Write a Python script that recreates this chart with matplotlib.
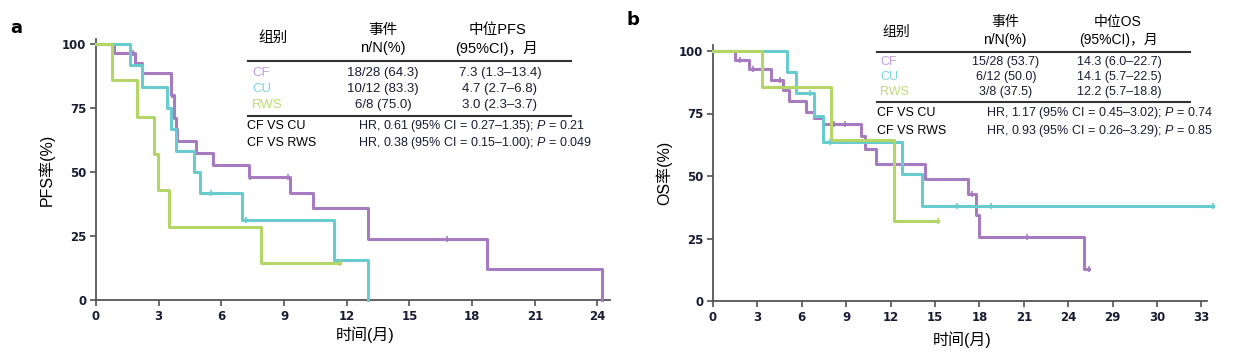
import numpy as np
import matplotlib
matplotlib.use("Agg")
import matplotlib.pyplot as plt

plt.rcParams['font.family'] = ['Liberation Sans', 'Noto Sans CJK SC', 'DejaVu Sans']
plt.rcParams['mathtext.fontset'] = 'custom'
plt.rcParams['mathtext.it'] = 'Liberation Sans:italic'
plt.rcParams['mathtext.rm'] = 'Liberation Sans'

# ---------------- data ----------------
groups = ["CF", "CU", "RWS"]

# Panel a: PFS
pfs_cf_t = [0, 0.85, 1.87, 2.2, 3.6, 3.72, 3.81, 3.9, 4.78, 5.6, 7.3, 9.3, 10.4, 13.0, 18.7, 24.2]
pfs_cf_s = [100, 96.4, 92.6, 88.4, 80.0, 71.0, 66.6, 62.2, 57.3, 52.5, 47.8, 41.8, 35.8, 23.9, 12.0, 0]
pfs_cf_end = 24.2
pfs_cf_cens = [1.75, 3.65, 7.35, 9.2, 16.8]

pfs_cu_t = [0, 1.61, 2.2, 3.41, 3.6, 3.81, 4.7, 5.0, 7.0, 11.4, 13.0]
pfs_cu_s = [100, 91.7, 83.3, 75.0, 66.7, 58.3, 50.0, 41.7, 31.3, 15.6, 0]
pfs_cu_end = 13.0
pfs_cu_cens = [5.5, 7.2]

pfs_rws_t = [0, 0.78, 1.98, 2.79, 2.95, 3.5, 7.9]
pfs_rws_s = [100, 85.7, 71.4, 57.1, 42.9, 28.6, 14.3]
pfs_rws_end = 11.7
pfs_rws_cens = [11.7]

# Panel b: OS
os_cf_t = [0, 1.49, 2.45, 3.92, 4.75, 5.16, 6.25, 6.85, 7.4, 10.0, 10.3, 11.0, 14.3, 17.2, 17.8, 18.0, 25.1]
os_cf_s = [100, 96.4, 92.7, 88.6, 84.4, 80.0, 75.6, 73.3, 70.9, 66.0, 61.0, 54.8, 48.8, 43.0, 34.4, 25.8, 12.9]
os_cf_end = 25.4
os_cf_cens = [1.8, 2.7, 4.5, 8.2, 8.9, 17.5, 21.2, 25.4]

os_cu_t = [0, 5.0, 5.6, 6.85, 7.45, 12.8, 14.1]
os_cu_s = [100, 91.7, 83.3, 74.1, 63.5, 50.8, 38.1]
os_cu_end = 33.8
os_cu_cens = [6.55, 7.9, 16.5, 18.8, 33.8]

os_rws_t = [0, 3.33, 7.95, 12.2]
os_rws_s = [100, 85.7, 64.3, 32.1]
os_rws_end = 15.2
os_rws_cens = [15.2]

pfs_xticks = [0, 3, 6, 9, 12, 15, 18, 21, 24]
pfs_xticklabels = ["0", "3", "6", "9", "12", "15", "18", "21", "24"]
os_xticks = [0, 3, 6, 9, 12, 15, 18, 21, 24, 27, 30, 33]
os_xticklabels = ["0", "3", "6", "9", "12", "15", "18", "21", "24", "29", "30", "33"]
yticks = [0, 25, 50, 75, 100]

pfs_table = [["18/28 (64.3)", "7.3 (1.3–13.4)"],
             ["10/12 (83.3)", "4.7 (2.7–6.8)"],
             ["6/8 (75.0)", "3.0 (2.3–3.7)"]]
pfs_hr = [("CF VS CU", r"HR, 0.61 (95% CI = 0.27–1.35); $\mathit{P}$ = 0.21"),
          ("CF VS RWS", r"HR, 0.38 (95% CI = 0.15–1.00); $\mathit{P}$ = 0.049")]
os_table = [["15/28 (53.7)", "14.3 (6.0–22.7)"],
            ["6/12 (50.0)", "14.1 (5.7–22.5)"],
            ["3/8 (37.5)", "12.2 (5.7–18.8)"]]
os_hr = [("CF VS CU", r"HR, 1.17 (95% CI = 0.45–3.02); $\mathit{P}$ = 0.74"),
         ("CF VS RWS", r"HR, 0.93 (95% CI = 0.26–3.29); $\mathit{P}$ = 0.85")]

line_colors = ["#a67bc0", "#68cbce", "#b3d666"]
label_colors = ["#c39ddb", "#7dd4d8", "#bfdc79"]
dark = "#1a1c33"

W, H = 1251, 361
fig = plt.figure(figsize=(W / 100, H / 100), dpi=100)


def px(x, y):
    return x / W, 1 - y / H


def draw_curve(ax, t, s, end, cens, color):
    x = list(t) + [end]
    y = list(s) + [s[-1]]
    ax.step(x, y, where='post', color=color, lw=2.2, clip_on=False, zorder=3)
    t_arr = np.array(t)
    cy = [s[np.searchsorted(t_arr, c, side='right') - 1] for c in cens]
    ax.plot(cens, cy, ls='none', marker='|', ms=5, mew=1.2, color=color, clip_on=False, zorder=4)


def style_axes(ax, xlim, xbound, ylim, xticks, xticklabels):
    ax.set_xlim(*xlim)
    ax.set_ylim(*ylim)
    for sp in ['top', 'right']:
        ax.spines[sp].set_visible(False)
    for sp in ['left', 'bottom']:
        ax.spines[sp].set_color('#555555')
        ax.spines[sp].set_linewidth(1.3)
    ax.spines['bottom'].set_bounds(0, xbound)
    ax.set_xticks(xticks)
    ax.set_xticklabels(xticklabels)
    ax.set_yticks(yticks)
    ax.tick_params(direction='out', length=4, width=1.1, color='#444444',
                   labelsize=8.5, labelcolor=dark, pad=3)
    for lb in ax.get_xticklabels() + ax.get_yticklabels():
        lb.set_fontfamily('DejaVu Sans')
        lb.set_fontweight('bold')


# ---------------- panel a ----------------
x0, x1 = 96, 610
xmax_a = 24.6
ymax_a = 102
ybot, ytop = 300, 300 - 102 * 2.563
axa = fig.add_axes([x0 / W, 1 - ybot / H, (x1 - x0) / W, (ybot - ytop) / H])
style_axes(axa, (0, xmax_a), xmax_a, (0, ymax_a), pfs_xticks, pfs_xticklabels)
draw_curve(axa, pfs_cf_t, pfs_cf_s, pfs_cf_end, pfs_cf_cens, line_colors[0])
draw_curve(axa, pfs_cu_t, pfs_cu_s, pfs_cu_end, pfs_cu_cens, line_colors[1])
draw_curve(axa, pfs_rws_t, pfs_rws_s, pfs_rws_end, pfs_rws_cens, line_colors[2])

# ---------------- panel b ----------------
bx0 = 713
px_per_m = 14.8
xmax_b = 33.9
ymax_b = 102.4
bybot = 301
bytop = 301 - ymax_b * 2.5
axb = fig.add_axes([bx0 / W, 1 - bybot / H, xmax_b * px_per_m / W, (bybot - bytop) / H])
style_axes(axb, (0, xmax_b), 33.35, (0, ymax_b), os_xticks, os_xticklabels)
draw_curve(axb, os_cf_t, os_cf_s, os_cf_end, os_cf_cens, line_colors[0])
draw_curve(axb, os_cu_t, os_cu_s, os_cu_end, os_cu_cens, line_colors[1])
draw_curve(axb, os_rws_t, os_rws_s, os_rws_end, os_rws_cens, line_colors[2])

# ---------------- labels ----------------
cjk = ['Liberation Sans', 'Noto Sans CJK SC']
fig.text(*px(16, 28), "a", fontsize=13, fontweight='bold', ha='center', va='center', family='DejaVu Sans')
fig.text(*px(633, 20), "b", fontsize=13, fontweight='bold', ha='center', va='center', family='DejaVu Sans')
fig.text(*px(46, 170), "PFS率(%)", rotation=90, fontsize=11.5, ha='center', va='center', family=cjk)
fig.text(*px(365, 335), "时间(月)", fontsize=11.5, ha='center', va='center', family=cjk)
fig.text(*px(664, 173), "OS率(%)", rotation=90, fontsize=11.5, ha='center', va='center', family=cjk)
fig.text(*px(962, 340), "时间(月)", fontsize=11.5, ha='center', va='center', family=cjk)


def draw_table(g, hdr_xs, hdr_y1, hdr_y2, grp_y, line1_y, line2_y, lx0, lx1, metric, fs):
    fig.text(*px(g, grp_y), "组别", fontsize=fs, ha='left', va='center', family=cjk)
    fig.text(*px(hdr_xs[0], hdr_y1), "事件", fontsize=fs, ha='center', va='center', family=cjk)
    fig.text(*px(hdr_xs[0], hdr_y2), "n/N(%)", fontsize=fs, ha='center', va='center', family=cjk)
    fig.text(*px(hdr_xs[1], hdr_y1), "中位" + metric, fontsize=fs, ha='center', va='center', family=cjk)
    fig.text(*px(hdr_xs[1], hdr_y2), "(95%CI)，月", fontsize=fs, ha='center', va='center', family=cjk)
    for ly in (line1_y, line2_y):
        fig.add_artist(plt.Line2D([lx0 / W, lx1 / W], [1 - ly / H, 1 - ly / H],
                                  color='#333333', lw=1.5))


def fill_rows(gx, row_ys, col_xs, rows, hr_ys, hr_lx, hr_x, hrs, fs, fs_hr):
    for i, name in enumerate(groups):
        fig.text(*px(gx, row_ys[i]), name, fontsize=fs, ha='left', va='center', color=label_colors[i])
        for j in range(2):
            fig.text(*px(col_xs[j], row_ys[i]), rows[i][j], fontsize=fs, ha='center', va='center', color=dark)
    for k, (a, b) in enumerate(hrs):
        fig.text(*px(hr_lx, hr_ys[k]), a, fontsize=fs_hr, ha='left', va='center', color='black')
        fig.text(*px(hr_x, hr_ys[k]), b, fontsize=fs_hr, ha='left', va='center', color=dark)


# panel a table
draw_table(258, (383, 497), 30, 48, 38, 61, 116, 248, 571, "PFS", 10.5)
fill_rows(252, (73, 89, 105), (383, 500), pfs_table, (126, 143), 247, 358, pfs_hr, 9.5, 9.0)

# panel b table
draw_table(882, (1005, 1118), 22, 40, 32, 52, 102, 877, 1190, "OS", 10.0)
fill_rows(880, (62, 77, 92), (1006, 1119), os_table, (113, 131), 877, 986, os_hr, 9.0, 9.0)

fig.savefig("out.png", dpi=100)
